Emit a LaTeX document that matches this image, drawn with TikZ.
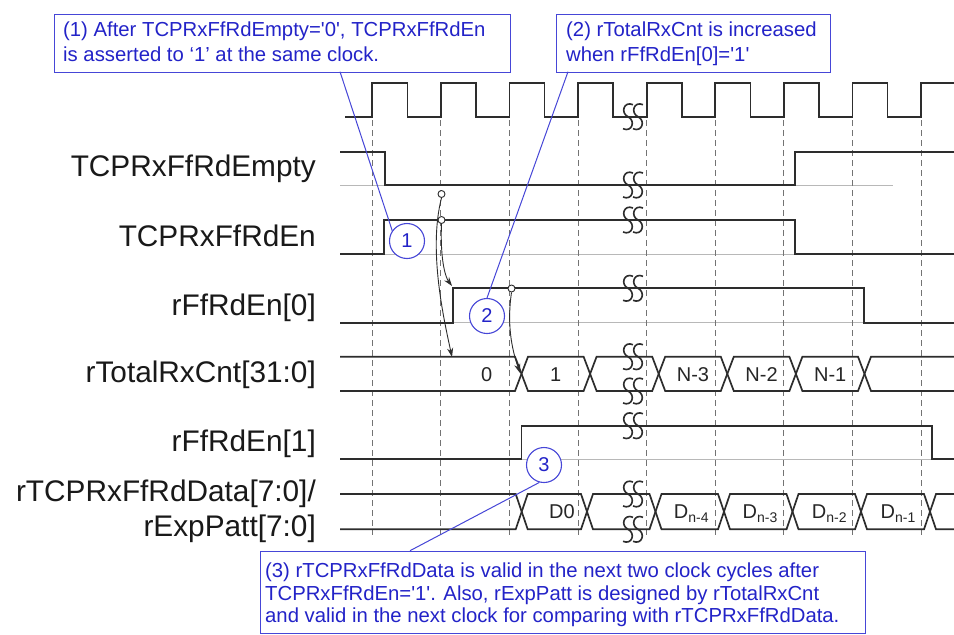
\documentclass[tikz,border=0pt]{standalone}
\usepackage{fontspec}
\setmainfont{Liberation Sans}
\newfontfamily\ars{Liberation Sans}
\usetikzlibrary{arrows.meta}
\definecolor{cblue}{RGB}{35,35,200}
\definecolor{bblue}{RGB}{70,70,215}
\definecolor{sigc}{RGB}{45,45,45}
\begin{document}
\begin{tikzpicture}[x=1pt,y=-1pt,
  sig/.style={draw=sigc, line width=1.7pt, line join=miter},
  gridl/.style={draw=black!55, line width=1.1pt, dash pattern=on 6pt off 4pt},
  refl/.style={draw=black!28, line width=0.8pt},
  lab/.style={anchor=base east, font=\ars\fontsize{29.8}{34}\selectfont, inner sep=0pt, text=black!90},
  val/.style={anchor=base, font=\ars\fontsize{20}{24}\selectfont, inner sep=0pt, text=black!85},
  note/.style={anchor=base west, font=\ars\fontsize{20.3}{24}\selectfont, text=cblue, inner sep=0pt},
  nbox/.style={draw=bblue, line width=1.1pt, fill=white, inner sep=0pt, anchor=north west},
  numc/.style={circle, draw=bblue, fill=white, line width=1.1pt, minimum size=35pt, inner sep=0pt, text=cblue, font=\ars\fontsize{20}{24}\selectfont},
  dotc/.style={circle, draw=sigc, fill=white, line width=0.9pt, minimum size=7pt, inner sep=0pt},
  cause/.style={draw=sigc, line width=0.9pt, -{Stealth[length=9pt,width=6pt]}},
  leader/.style={draw=bblue, line width=1pt},
  brk/.pic={
    \foreach \d in {-5,5}
      \draw[draw=sigc, line width=1.6pt] ({\d+5},-12) .. controls ({\d-4},-16) and ({\d-8},-4) .. (\d,0)
        .. controls ({\d+8},4) and ({\d+4},16) .. ({\d-5},12);
  }
]
\useasboundingbox (0,0) rectangle (954,635);
\fill[white] (0,0) rectangle (954,635);

% reference (low level) lines
\draw[refl] (340,185) -- (893,185);
\draw[refl] (340,254.3) -- (954,254.3);
\draw[refl] (340,322.7) -- (954,322.7);
\draw[refl] (340,459.3) -- (954,459.3);

% dashed clock-edge lines
\foreach \i in {0,...,8} \draw[gridl] ({372.3+68.6*\i},120) -- ({372.3+68.6*\i},535);

% clock
\draw[sig] (345,116.7) foreach \i in {0,...,8} { -- ({372.3+68.6*\i},116.7) -- ++(0,-33.7) -- ++(35.1,0) -- ++(0,33.7) };

% TCPRxFfRdEmpty
\draw[sig] (340,151.7) -- (385,151.7) -- (385,185) -- (795,185) -- (795,151.7) -- (954,151.7);
% TCPRxFfRdEn
\draw[sig] (340,254.3) -- (384.3,254.3) -- (384.3,220) -- (795,220) -- (795,254.3) -- (954,254.3);
% rFfRdEn[0]
\draw[sig] (340,322.7) -- (453.3,322.7) -- (453.3,288.3) -- (864,288.3) -- (864,322.7) -- (954,322.7);
% rTotalRxCnt bus
\draw[sig] (340,356.7) -- (515,356.7) -- (528,391) -- (583.6,391) -- (596.6,356.7) -- (652.2,356.7) -- (665.2,391) -- (720.8,391) -- (733.8,356.7) -- (789.4,356.7) -- (802.4,391) -- (858,391) -- (871,356.7) -- (954,356.7);
\draw[sig] (340,391) -- (515,391) -- (528,356.7) -- (583.6,356.7) -- (596.6,391) -- (652.2,391) -- (665.2,356.7) -- (720.8,356.7) -- (733.8,391) -- (789.4,391) -- (802.4,356.7) -- (858,356.7) -- (871,391) -- (954,391);
% rFfRdEn[1]
\draw[sig] (340,459.3) -- (521.5,459.3) -- (521.5,425.7) -- (932.3,425.7) -- (932.3,459.3) -- (954,459.3);
% data bus
\draw[sig] (340,494) -- (515.7,494) -- (527.7,529.3) -- (581,529.3) -- (593,494) -- (649.5,494) -- (661.5,529.3) -- (718,529.3) -- (730,494) -- (786.5,494) -- (798.5,529.3) -- (855,529.3) -- (867,494) -- (924,494) -- (936,529.3) -- (954,529.3);
\draw[sig] (340,529.3) -- (515.7,529.3) -- (527.7,494) -- (581,494) -- (593,529.3) -- (649.5,529.3) -- (661.5,494) -- (718,494) -- (730,529.3) -- (786.5,529.3) -- (798.5,494) -- (855,494) -- (867,529.3) -- (924,529.3) -- (936,494) -- (954,494);

% break marks
\foreach \yy in {116.7,185,220,288.3,356.7,391,425.7,494,529.3} \pic at (633,\yy) {brk};

% signal names
\node[lab] (lEmpty) at (316,176.7) {TCPRxFfRdEmpty};
\node[lab] (lEn) at (316,246.7) {TCPRxFfRdEn};
\node[lab] (lRd0) at (316,315.5) {rFfRdEn[0]};
\node[lab] (lCnt) at (316,382.3) {rTotalRxCnt[31:0]};
\node[lab] (lRd1) at (316,451.7) {rFfRdEn[1]};
\node[lab] (lData) at (316,501.7) {rTCPRxFfRdData[7:0]/};
\node[lab] (lExp) at (316,536.7) {rExpPatt[7:0]};

% bus values
\node[val] (v0) at (486.7,381) {0};
\node[val] (v1) at (555.8,381) {1};
\node[val] (vN3) at (693,381) {N-3};
\node[val] (vN2) at (761.6,381) {N-2};
\node[val] (vN1) at (830.2,381) {N-1};
\node[val] (vD0) at (562,518.9) {D0};
\node[val] (vD4) at (691.5,518.9) {D\textsubscript{n-4}};
\node[val] (vD3) at (760.3,518.9) {D\textsubscript{n-3}};
\node[val] (vD2) at (829.5,518.9) {D\textsubscript{n-2}};
\node[val] (vD1) at (898.3,518.9) {D\textsubscript{n-1}};

% causal arrows
\node[dotc] (da) at (441.5,194) {};
\node[dotc] (db) at (441.5,220) {};
\node[dotc] (dc) at (511.5,288.5) {};
\coordinate (ta) at (452,357);
\coordinate (tb) at (452,286);
\coordinate (tc) at (520,373);
\draw[cause] (da.south) .. controls (428,250) and (444,320) .. (ta);
\draw[cause] (db.south) .. controls (440,262) and (446,278) .. (tb);
\draw[cause] (dc.south) .. controls (506,330) and (514,355) .. (tc);

% callout boxes
\node[nbox, minimum width=455.7pt, minimum height=57.4pt] (box1) at (54.3,14.3) {};
\node[nbox, minimum width=274pt, minimum height=57.4pt] (box2) at (556,14.3) {};
\node[nbox, minimum width=605pt, minimum height=82.3pt] (box3) at (260,550.7) {};
\node[note] (n1a) at (63,36.7) {(1) After TCPRxFfRdEmpty='0', TCPRxFfRdEn};
\node[note] (n1b) at (63,61) {is asserted to ‘1’ at the same clock.};
\node[note] (n2a) at (566,36.7) {(2) rTotalRxCnt is increased};
\node[note] (n2b) at (566,61) {when rFfRdEn[0]='1'};
\node[note] (n3a) at (265,577.7) {(3) rTCPRxFfRdData is valid in the next two clock cycles after};
\node[note] (n3b) at (265,600.2) {TCPRxFfRdEn='1'. Also, rExpPatt is designed by rTotalRxCnt};
\node[note] (n3c) at (265,622.7) {and valid in the next clock for comparing with rTCPRxFfRdData.};

% numbered circles
\node[numc] (c1) at (407,241) {1};
\node[numc] (c2) at (487,316) {2};
\node[numc] (c3) at (544,465) {3};

% leader lines
\coordinate (p1) at (340,71.7);
\coordinate (p2) at (568,71.7);
\coordinate (p3) at (410,550.7);
\draw[leader] (p1) -- (c1.145);
\draw[leader] (p2) -- (c2.north);
\draw[leader] (p3) -- (c3.255);
\end{tikzpicture}
\end{document}
